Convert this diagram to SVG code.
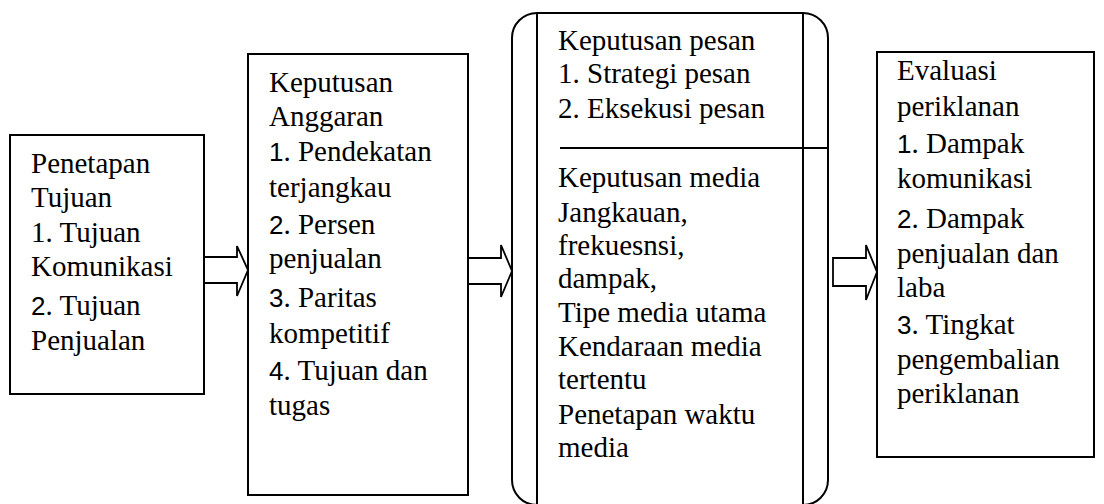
<svg xmlns="http://www.w3.org/2000/svg" width="1104" height="504" viewBox="0 0 1104 504">
<style>
.box{fill:#fff;stroke:#000;stroke-width:2}
.ln{stroke:#000;stroke-width:2;fill:none}
.arr{fill:#fff;stroke:#000;stroke-width:1.8;stroke-linejoin:miter}
text{font-family:"Liberation Serif","Times New Roman",serif;font-size:29px;fill:#000}
.n{font-family:"Liberation Sans",Arial,sans-serif;font-size:26px}
</style>
<rect width="1104" height="504" fill="#fff"/>
<g id="connectors">
<polygon class="arr" points="204,257 237,257 237,246 248,270 237,296 237,283 204,283"/>
<polygon class="arr" points="468,258 501,258 501,245 512,271 501,297 501,284 468,284"/>
<polygon class="arr" points="833,258 866,258 866,245 877,272 866,300 866,286 833,286"/>
</g>
<g id="node-penetapan">
<rect class="box" x="10" y="135" width="194" height="259"/>
<text x="31" y="173">Penetapan</text>
<text x="31" y="207">Tujuan</text>
<text x="31" y="242">1. Tujuan</text>
<text x="31" y="276">Komunikasi</text>
<text x="31" y="315"><tspan class="n">2</tspan>. Tujuan</text>
<text x="31" y="350">Penjualan</text>
</g>
<g id="node-anggaran">
<rect class="box" x="248" y="54" width="220" height="441"/>
<text x="269" y="92">Keputusan</text>
<text x="269" y="126">Anggaran</text>
<text x="269" y="161"><tspan class="n">1</tspan>. Pendekatan</text>
<text x="269" y="197">terjangkau</text>
<text x="269" y="234"><tspan class="n">2</tspan>. Persen</text>
<text x="269" y="268">penjualan</text>
<text x="269" y="307"><tspan class="n">3</tspan>. Paritas</text>
<text x="269" y="343">kompetitif</text>
<text x="269" y="380"><tspan class="n">4</tspan>. Tujuan dan</text>
<text x="269" y="415">tugas</text>
</g>
<g id="node-pesan-media">
<rect class="box" x="512" y="13" width="316" height="492" rx="25" ry="25"/>
<line class="ln" x1="537" y1="13" x2="537" y2="505"/>
<line class="ln" x1="803" y1="13" x2="803" y2="505"/>
<line class="ln" x1="560" y1="148" x2="828" y2="148"/>
<text x="558" y="50">Keputusan pesan</text>
<text x="558" y="83">1. Strategi pesan</text>
<text x="558" y="118">2. Eksekusi pesan</text>
<text x="558" y="187">Keputusan media</text>
<text x="558" y="222">Jangkauan,</text>
<text x="558" y="255">frekuesnsi,</text>
<text x="558" y="288">dampak,</text>
<text x="558" y="322">Tipe media utama</text>
<text x="558" y="356">Kendaraan media</text>
<text x="558" y="389">tertentu</text>
<text x="558" y="424">Penetapan waktu</text>
<text x="558" y="457">media</text>
</g>
<g id="node-evaluasi">
<rect class="box" x="877" y="52" width="217" height="405"/>
<text x="897" y="80">Evaluasi</text>
<text x="897" y="116">periklanan</text>
<text x="897" y="153"><tspan class="n">1</tspan>. Dampak</text>
<text x="897" y="188">komunikasi</text>
<text x="897" y="228"><tspan class="n">2</tspan>. Dampak</text>
<text x="897" y="263">penjualan dan</text>
<text x="897" y="297">laba</text>
<text x="897" y="334"><tspan class="n">3</tspan>. Tingkat</text>
<text x="897" y="369">pengembalian</text>
<text x="897" y="403">periklanan</text>
</g>
</svg>
